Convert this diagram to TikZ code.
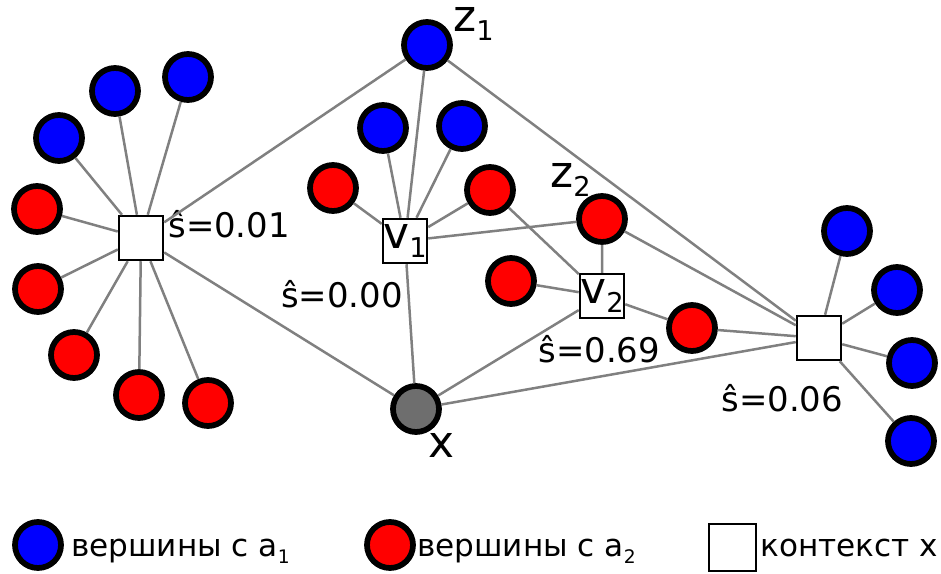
\documentclass[tikz,border=0pt]{standalone}
\usepackage{fontspec}
\setmainfont{DejaVu Sans}
\usepackage{graphicx}
\usepackage{xcolor}
\usepackage{tikz}
\usetikzlibrary{positioning}

\definecolor{edgegray}{RGB}{128,128,128}
\definecolor{xgray}{RGB}{110,110,110}
\newcommand{\scorefont}{\fontsize{19.3pt}{21pt}\selectfont}
\newcommand{\nodefont}{\fontsize{25pt}{27pt}\selectfont}
\newcommand{\legfont}{\fontsize{17.7pt}{20pt}\selectfont}
\newcommand{\idx}[2][0.62]{\raisebox{-0.2em}{\scalebox{#1}{#2}}}

\begin{document}
\begin{tikzpicture}[x=0.02cm, y=-0.02cm,
    blueV/.style={circle, draw=black, line width=0.115cm, fill=blue, minimum size=0.92cm, inner sep=0},
    redV/.style={blueV, fill=red},
    grayV/.style={blueV, fill=xgray},
    ctx/.style={rectangle, draw=black, line width=0.04cm, fill=white, minimum size=0.89cm, inner sep=0, font=\nodefont},
    edge/.style={draw=edgegray, line width=0.05cm},
    score/.style={inner sep=0, font=\scorefont},
    lbl/.style={inner sep=0, font=\nodefont},
    legtext/.style={inner sep=0, font=\legfont}]
    \useasboundingbox (0,0) rectangle (941,574);

    % left context
    \node[ctx] (ctxA) at (141,238) {};
    \node[blueV] (la1) at (59,138) {};
    \node[blueV] (la2) at (115,91) {};
    \node[blueV] (la3) at (188,77) {};
    \node[redV] (lb1) at (37,209) {};
    \node[redV] (lb2) at (38,289) {};
    \node[redV] (lb3) at (74,355) {};
    \node[redV] (lb4) at (139,395) {};
    \node[redV] (lb5) at (208,403) {};

    % middle part
    \node[blueV] (z1) at (427,45) {};
    \node[blueV] (mb1) at (383,128) {};
    \node[blueV] (mb2) at (462,126) {};
    \node[redV] (mr1) at (333,188) {};
    \node[redV] (mr2) at (490,190) {};
    \node[redV] (z2) at (602,219) {};
    \node[redV] (mr3) at (511,281) {};
    \node[redV] (mr4) at (692,328) {};
    \node[ctx] (v1) at (405,241) {v\idx{1}};
    \node[ctx] (v2) at (602,296) {v\idx{2}};
    \node[grayV] (xn) at (416,409) {};

    % right context
    \node[ctx] (ctxB) at (819,338) {};
    \node[blueV] (ra1) at (847,231) {};
    \node[blueV] (ra2) at (897,290) {};
    \node[blueV] (ra3) at (912,363) {};
    \node[blueV] (ra4) at (911,441) {};

    % labels
    \node[score, anchor=base west] (sA) at (168,238) {ŝ=0.01};
    \node[score, anchor=base east] (sV1) at (403,308) {ŝ=0.00};
    \node[score, anchor=base west] (sV2) at (538,363) {ŝ=0.69};
    \node[score, anchor=base west] (sB) at (721,412) {ŝ=0.06};
    \node[lbl, anchor=base west] (lz1) at (453,32) {z\idx{1}};
    \node[lbl, anchor=base west] (lz2) at (550,188) {z\idx{2}};
    \node[lbl, anchor=base west] (lx) at (428,458) {x};

    % edges
    \draw[edge] (ctxA) -- (la1) (ctxA) -- (la2) (ctxA) -- (la3);
    \draw[edge] (ctxA) -- (lb1) (ctxA) -- (lb2) (ctxA) -- (lb3) (ctxA) -- (lb4) (ctxA) -- (lb5);
    \draw[edge] (ctxA) -- (z1) (ctxA) -- (xn);
    \draw[edge] (z1) -- (v1) (z1) -- (ctxB);
    \draw[edge] (v1) -- (mb1) (v1) -- (mb2) (v1) -- (mr1) (v1) -- (mr2) (v1) -- (z2) (v1) -- (xn);
    \draw[edge] (v2) -- (mr2) (v2) -- (z2) (v2) -- (mr3) (v2) -- (mr4) (v2) -- (xn);
    \draw[edge] (ctxB) -- (z2) (ctxB) -- (mr4) (ctxB) -- (xn);
    \draw[edge] (ctxB) -- (ra1) (ctxB) -- (ra2) (ctxB) -- (ra3) (ctxB) -- (ra4);

    % legend
    \node[blueV] (legA) at (38,545) {};
    \node[legtext, right=0.14cm of legA, anchor=base west, yshift=-0.24cm] (legAtxt) {вершины с a\idx[0.6]{1}};
    \node[redV] (legB) at (390,545) {};
    \node[legtext, right=0.02cm of legB, anchor=base west, yshift=-0.24cm] (legBtxt) {вершины с a\idx[0.6]{2}};
    \node[ctx, minimum size=0.94cm] (legC) at (732.5,547.5) {};
    \node[legtext, right=0.06cm of legC, anchor=base west, yshift=-0.19cm] (legCtxt) {контекст x};
\end{tikzpicture}
\end{document}
